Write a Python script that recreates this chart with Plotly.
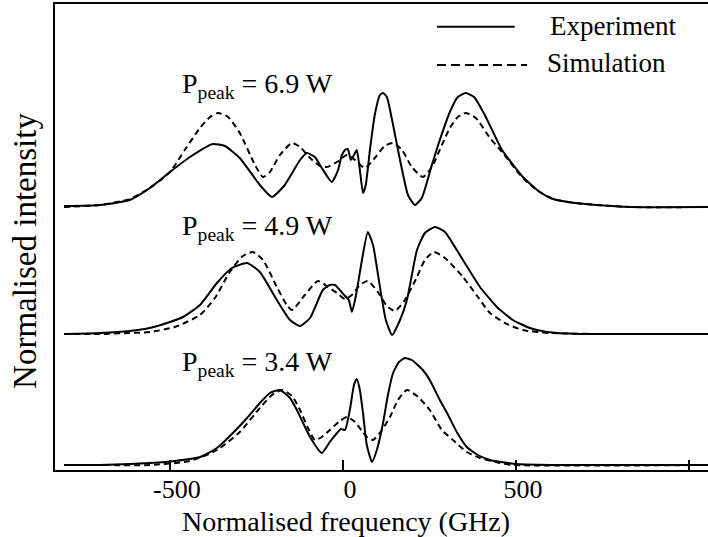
import plotly.graph_objects as go

# ---------------- data ----------------
# Normalised frequency (GHz) and intensity (arb. units) for each peak power
f_exp_69 = [-806, -702, -616, -558, -500, -442, -376, -341, -298, -240, -205, -168, -124, -104, -81, -61, -32, -14, -3, 6, 14, 23, 32, 40, 49, 58, 66, 78, 92, 107, 116, 127, 145, 165, 188, 208, 228, 257, 280, 309, 332, 355, 379, 410, 460, 520, 569, 607, 671, 734, 829, 1055]
i_exp_69 = [0.01, 0.02, 0.07, 0.19, 0.35, 0.50, 0.63, 0.61, 0.49, 0.22, 0.10, 0.22, 0.47, 0.54, 0.50, 0.39, 0.25, 0.37, 0.52, 0.57, 0.58, 0.47, 0.52, 0.57, 0.37, 0.14, 0.22, 0.57, 0.92, 1.12, 1.14, 1.10, 0.82, 0.47, 0.12, 0.02, 0.09, 0.42, 0.67, 0.95, 1.10, 1.14, 1.10, 0.92, 0.57, 0.30, 0.15, 0.08, 0.04, 0.02, 0.00, 0.00]

f_sim_69 = [-806, -702, -616, -558, -500, -457, -413, -384, -361, -332, -298, -254, -231, -211, -182, -147, -124, -95, -66, -46, -17, 12, 35, 64, 92, 121, 145, 171, 199, 231, 257, 286, 309, 332, 355, 384, 425, 460, 520, 569, 607, 671, 734, 829, 1055]
i_sim_69 = [0.00, 0.02, 0.08, 0.19, 0.35, 0.57, 0.79, 0.90, 0.94, 0.90, 0.74, 0.42, 0.30, 0.35, 0.52, 0.64, 0.60, 0.49, 0.41, 0.40, 0.45, 0.52, 0.47, 0.39, 0.49, 0.61, 0.64, 0.57, 0.40, 0.30, 0.40, 0.62, 0.79, 0.90, 0.94, 0.89, 0.69, 0.55, 0.29, 0.15, 0.08, 0.04, 0.02, 0.00, 0.00]

f_exp_49 = [-806, -702, -616, -558, -500, -462, -413, -364, -321, -277, -240, -191, -153, -124, -95, -58, -38, -23, -9, 6, 17, 26, 35, 43, 55, 72, 87, 107, 124, 142, 165, 185, 214, 237, 266, 295, 329, 361, 396, 445, 491, 540, 590, 685, 829, 1055]
i_exp_49 = [0.00, 0.01, 0.03, 0.06, 0.12, 0.17, 0.29, 0.51, 0.66, 0.71, 0.62, 0.34, 0.14, 0.08, 0.16, 0.44, 0.49, 0.49, 0.44, 0.38, 0.34, 0.22, 0.34, 0.49, 0.74, 1.02, 0.89, 0.47, 0.14, -0.01, 0.14, 0.34, 0.84, 1.01, 1.07, 1.02, 0.84, 0.66, 0.47, 0.27, 0.14, 0.06, 0.02, 0.00, 0.00, 0.00]

f_sim_49 = [-806, -702, -616, -558, -486, -413, -370, -327, -289, -260, -231, -191, -162, -147, -110, -72, -43, -17, 6, 26, 49, 72, 101, 127, 150, 179, 214, 237, 263, 295, 347, 390, 425, 474, 520, 598, 743, 1055]
i_sim_49 = [0.00, 0.00, 0.01, 0.02, 0.07, 0.19, 0.36, 0.62, 0.78, 0.82, 0.74, 0.47, 0.29, 0.24, 0.39, 0.53, 0.47, 0.41, 0.35, 0.39, 0.49, 0.53, 0.42, 0.28, 0.23, 0.34, 0.57, 0.74, 0.82, 0.76, 0.57, 0.37, 0.21, 0.10, 0.04, 0.01, 0.00, 0.00]

f_exp_34 = [-806, -702, -616, -558, -486, -413, -364, -318, -277, -240, -211, -182, -153, -133, -95, -61, -38, -17, -6, 6, 20, 32, 40, 49, 58, 69, 84, 98, 116, 130, 145, 162, 179, 199, 231, 251, 280, 301, 329, 358, 390, 425, 503, 627, 1055]
i_exp_34 = [0.00, 0.00, 0.01, 0.02, 0.04, 0.08, 0.17, 0.32, 0.47, 0.62, 0.72, 0.75, 0.67, 0.55, 0.28, 0.12, 0.23, 0.32, 0.36, 0.35, 0.55, 0.80, 0.86, 0.75, 0.52, 0.20, 0.03, 0.15, 0.42, 0.70, 0.92, 1.03, 1.07, 1.05, 0.95, 0.85, 0.65, 0.52, 0.33, 0.18, 0.10, 0.05, 0.01, 0.00, 0.00]

f_sim_34 = [-806, -702, -558, -442, -364, -298, -240, -205, -176, -147, -124, -101, -81, -61, -38, -9, 12, 35, 55, 72, 87, 113, 136, 159, 185, 217, 251, 286, 318, 358, 396, 454, 491, 1055]
i_sim_34 = [0.00, 0.00, 0.00, 0.04, 0.15, 0.33, 0.57, 0.70, 0.75, 0.69, 0.55, 0.37, 0.25, 0.28, 0.35, 0.44, 0.48, 0.43, 0.34, 0.27, 0.25, 0.35, 0.48, 0.65, 0.75, 0.68, 0.55, 0.35, 0.25, 0.13, 0.07, 0.02, 0.00, 0.00]

# vertical offsets of the stacked spectra
offsets = {"6.9": 2.63, "4.9": 1.36, "3.4": 0.05}
labels = ["P<sub>peak</sub> = 6.9 W", "P<sub>peak</sub> = 4.9 W", "P<sub>peak</sub> = 3.4 W"]
label_y = [3.85, 2.43, 1.07]
label_x = -470

tick_vals = [-500, 0, 500, 1000]
tick_text = ["-500", "0", "500", ""]

FONT = "Liberation Serif, Times New Roman, serif"

fig = go.Figure()

series = [
    (f_exp_69, i_exp_69, f_sim_69, i_sim_69, offsets["6.9"]),
    (f_exp_49, i_exp_49, f_sim_49, i_sim_49, offsets["4.9"]),
    (f_exp_34, i_exp_34, f_sim_34, i_sim_34, offsets["3.4"]),
]
for fe, ie, fs, is_, off in series:
    fig.add_trace(go.Scatter(x=fs, y=[v + off for v in is_], mode="lines",
                             line=dict(color="black", width=2, dash="6px,4px", shape="spline", smoothing=0.6),
                             showlegend=False, hoverinfo="skip"))
    fig.add_trace(go.Scatter(x=fe, y=[v + off for v in ie], mode="lines",
                             line=dict(color="black", width=2, shape="spline", smoothing=0.5),
                             showlegend=False, hoverinfo="skip"))

for txt, yy in zip(labels, label_y):
    fig.add_annotation(x=label_x, y=yy, xref="x", yref="y", text=txt, showarrow=False,
                       xanchor="left", yanchor="middle", font=dict(family=FONT, size=28, color="black"))

# legend drawn manually
fig.add_shape(type="line", xref="paper", yref="paper", x0=0.585, x1=0.704, y0=0.951, y1=0.951,
              line=dict(color="black", width=2))
fig.add_shape(type="line", xref="paper", yref="paper", x0=0.585, x1=0.723, y0=0.869, y1=0.869,
              line=dict(color="black", width=2, dash="9px,5px"))
fig.add_annotation(xref="paper", yref="paper", x=0.755, y=0.953, text="Experiment", showarrow=False,
                   xanchor="left", yanchor="middle", font=dict(family=FONT, size=27, color="black"))
fig.add_annotation(xref="paper", yref="paper", x=0.750, y=0.873, text="Simulation", showarrow=False,
                   xanchor="left", yanchor="middle", font=dict(family=FONT, size=27, color="black"))

# axis titles
fig.add_annotation(xref="paper", yref="paper", x=0.4456, y=-0.074, text="Normalised frequency (GHz)",
                   showarrow=False, xanchor="center", yanchor="top",
                   font=dict(family=FONT, size=28, color="black"))
fig.add_annotation(xref="paper", yref="paper", x=-0.046, y=0.47, text="Normalised intensity",
                   showarrow=False, xanchor="center", yanchor="middle", textangle=-90,
                   font=dict(family=FONT, size=33, color="black"))

xaxis_cfg = dict(range=[-832, 1055], showgrid=False, zeroline=False,
                 showline=True, linecolor="black", linewidth=2, mirror=True,
                 ticks="inside", ticklen=10, tickwidth=2, tickcolor="black",
                 tickvals=tick_vals, ticktext=tick_text, ticklabelshift=7,
                 tickfont=dict(family=FONT, size=26, color="black"))

fig.update_layout(
    width=708, height=537,
    margin=dict(l=55, r=0, t=4, b=67),
    paper_bgcolor="white", plot_bgcolor="white",
    showlegend=False,
    xaxis=xaxis_cfg,
    yaxis=dict(range=[0, 4.66], showgrid=False, zeroline=False,
               showline=True, linecolor="black", linewidth=2, mirror=False,
               showticklabels=False, ticks=""),
)
try:
    fig.update_xaxes(ticklabelstandoff=-5)
except Exception:
    fig.update_xaxes(ticklabelstandoff=0)

fig.write_html("out.html", config={"displayModeBar": False},
               post_script="document.body.style.margin='0';document.body.style.padding='0';")
